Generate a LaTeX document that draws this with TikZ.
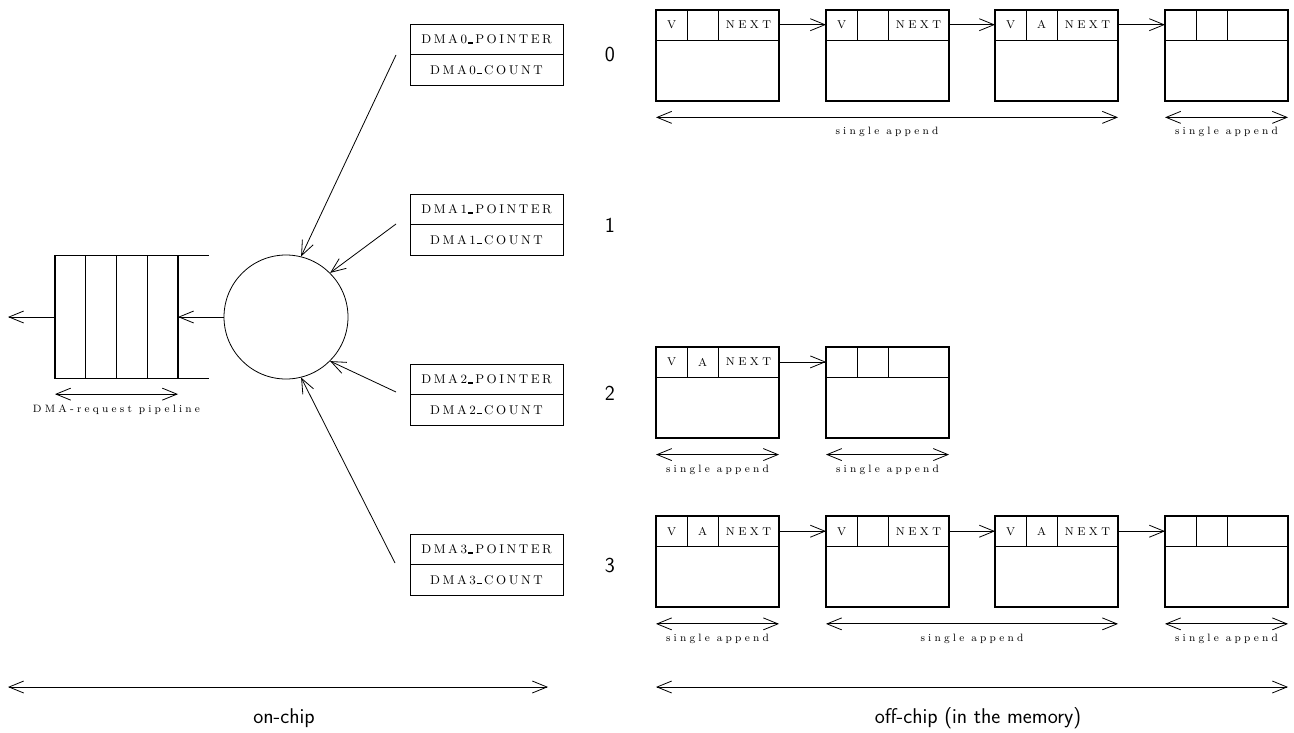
\documentclass[tikz,border=0pt]{standalone}
\usepackage{fontspec}
\setmainfont{Latin Modern Roman}
\setsansfont{Latin Modern Sans}
\usetikzlibrary{arrows.meta,positioning}

\newcommand{\regfont}{\fontsize{9.5}{11}\selectfont\addfontfeature{LetterSpace=20}}
\newcommand{\fieldfont}{\fontsize{8.5}{10}\selectfont\addfontfeature{LetterSpace=30}}
\newcommand{\notefont}{\fontsize{8}{10}\selectfont\addfontfeature{LetterSpace=30}}
\newcommand{\bigfont}{\fontsize{16}{19}\selectfont\sffamily}
\newcommand{\usc}{\kern.05em\vbox{\hrule width .4em height .9pt}\kern.2em}

% one descriptor in memory: name, north-west corner, three header fields
\newcommand{\memrec}[5]{%
  \node[rec] (#1) at (#2) {};
  \draw[cell] ([yshift=-22.9pt]#1.north west) -- ([yshift=-22.9pt]#1.north east);
  \draw[cell] ([xshift=23.25pt]#1.north west) -- ++(0,30.5);
  \draw[cell] ([xshift=46.5pt]#1.north west) -- ++(0,30.5);
  \node[field] (#1v) at ([shift={(15.5,15.25)}]#1.north west) {#3};
  \node[field] (#1a) at ([shift={(46.5,15.25)}]#1.north west) {#4};
  \node[field] (#1n) at ([shift={(92.5,15.25)}]#1.north west) {#5};
  \coordinate (#1out) at ([yshift=-11.4pt]#1.north east);
  \coordinate (#1in) at ([yshift=-11.4pt]#1.north west);
}

\begin{document}
\begin{tikzpicture}[x=0.75pt, y=-0.75pt,
    reg/.style={draw, line width=0.7pt, outer sep=0pt, inner sep=0pt,
      minimum width=114.75pt, minimum height=22.9pt, font=\regfont},
    rec/.style={draw, line width=1.5pt, outer sep=0pt, anchor=north west,
      minimum width=92.25pt, minimum height=68.5pt},
    cell/.style={line width=0.6pt},
    field/.style={inner sep=0pt, font=\fieldfont},
    note/.style={inner sep=0pt, font=\notefont},
    num/.style={inner sep=0pt, font=\bigfont},
    ptr/.style={line width=0.6pt, -{Straight Barb[length=11pt,width=9pt]}},
    span/.style={line width=0.6pt, {Straight Barb[length=11pt,width=9pt]}-{Straight Barb[length=11pt,width=9pt]}}]
  \useasboundingbox (0,0) rectangle (1294,732);

  % on-chip part
  \node[draw, line width=0.8pt, outer sep=0pt, minimum width=92.25pt,
    minimum height=91.7pt] (pipe) at (116.5,317) {};
  \foreach \i in {1,2,3}
    \draw[line width=0.6pt] ([xshift=\i*23.06pt]pipe.north west) -- ([xshift=\i*23.06pt]pipe.south west);
  \draw[line width=0.8pt] (pipe.north east) -- ++(31,0);
  \draw[line width=0.8pt] (pipe.south east) -- ++(31,0);
  \draw[span] ([yshift=-12pt]pipe.south west) -- ([yshift=-12pt]pipe.south east)
    node[note, midway, yshift=-12pt] (pipelbl) {DMA-request pipeline};

  \node[draw, circle, line width=0.6pt, inner sep=0pt, minimum size=93pt] (hub) at (286,317) {};
  \coordinate (out) at (8,317);
  \draw[ptr] (hub.west) -- (pipe.east);
  \draw[ptr] (pipe.west) -- (out);

  \node[reg] (p0) at (486.5,39.25) {DMA0\usc POINTER};
  \node[reg, below=0pt of p0] (c0) {DMA0\usc COUNT};
  \node[reg] (p1) at (486.5,209.25) {DMA1\usc POINTER};
  \node[reg, below=0pt of p1] (c1) {DMA1\usc COUNT};
  \node[reg] (p2) at (486.5,379.25) {DMA2\usc POINTER};
  \node[reg, below=0pt of p2] (c2) {DMA2\usc COUNT};
  \node[reg] (p3) at (486.5,549.25) {DMA3\usc POINTER};
  \node[reg, below=0pt of p3] (c3) {DMA3\usc COUNT};

  \coordinate (s0) at (396,55);
  \coordinate (s1) at (396,224);
  \coordinate (s2) at (396,392);
  \coordinate (s3) at (395,563);
  \draw[ptr] (s0) -- (hub.76);
  \draw[ptr] (s1) -- (hub.45);
  \draw[ptr] (s2) -- (hub.-45);
  \draw[ptr] (s3) -- (hub.-76);

  \node[num] (n0) at (610,54) {0};
  \node[num] (n1) at (610,225) {1};
  \node[num] (n2) at (610,393) {2};
  \node[num] (n3) at (610,565) {3};

  % off-chip part
  \memrec{r0a}{656,9.5}{V}{}{NEXT}
  \memrec{r0b}{826,9.5}{V}{}{NEXT}
  \memrec{r0c}{995,9.5}{V}{A}{NEXT}
  \memrec{r0d}{1165,9.5}{}{}{}
  \memrec{r2a}{656,346.7}{V}{A}{NEXT}
  \memrec{r2b}{826,346.7}{}{}{}
  \memrec{r3a}{656,516}{V}{A}{NEXT}
  \memrec{r3b}{826,516}{V}{}{NEXT}
  \memrec{r3c}{995,516}{V}{A}{NEXT}
  \memrec{r3d}{1165,516}{}{}{}

  \draw[ptr] (r0aout) -- (r0bin);
  \draw[ptr] (r0bout) -- (r0cin);
  \draw[ptr] (r0cout) -- (r0din);
  \draw[ptr] (r2aout) -- (r2bin);
  \draw[ptr] (r3aout) -- (r3bin);
  \draw[ptr] (r3bout) -- (r3cin);
  \draw[ptr] (r3cout) -- (r3din);

  \draw[span] ([yshift=-12.4pt]r0a.south west) -- ([yshift=-12.4pt]r0c.south east)
    node[note, midway, yshift=-11.25pt] (sa0) {single append};
  \draw[span] ([yshift=-12.4pt]r0d.south west) -- ([yshift=-12.4pt]r0d.south east)
    node[note, midway, yshift=-11.25pt] (sa1) {single append};
  \draw[span] ([yshift=-12.4pt]r2a.south west) -- ([yshift=-12.4pt]r2a.south east)
    node[note, midway, yshift=-11.25pt] (sa2) {single append};
  \draw[span] ([yshift=-12.4pt]r2b.south west) -- ([yshift=-12.4pt]r2b.south east)
    node[note, midway, yshift=-11.25pt] (sa3) {single append};
  \draw[span] ([yshift=-12.4pt]r3a.south west) -- ([yshift=-12.4pt]r3a.south east)
    node[note, midway, yshift=-11.25pt] (sa4) {single append};
  \draw[span] ([yshift=-12.4pt]r3b.south west) -- ([yshift=-12.4pt]r3c.south east)
    node[note, midway, yshift=-11.25pt] (sa5) {single append};
  \draw[span] ([yshift=-12.4pt]r3d.south west) -- ([yshift=-12.4pt]r3d.south east)
    node[note, midway, yshift=-11.25pt] (sa6) {single append};

  % bottom scale
  \coordinate (chipL) at (8,687);
  \coordinate (chipR) at (548,687);
  \coordinate (memL) at (656,687);
  \coordinate (memR) at (1288,687);
  \draw[span] (chipL) -- (chipR);
  \draw[span] (memL) -- (memR);
  \node[num] (onchip) at (284,718) {on-chip};
  \node[num] (offchip) at (978,718) {off-chip (in the memory)};
\end{tikzpicture}
\end{document}
